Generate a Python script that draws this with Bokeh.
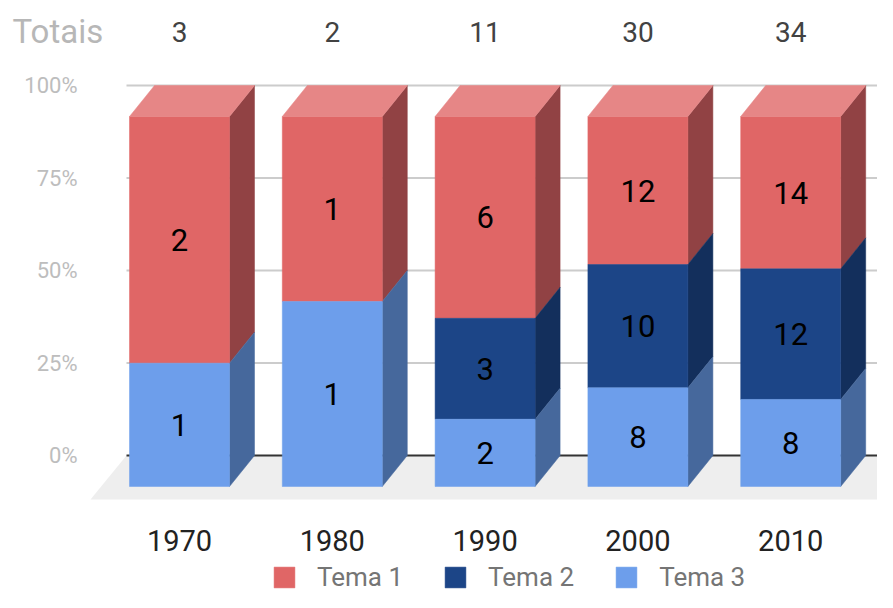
import numpy as np
from bokeh.plotting import figure
from bokeh.models import Range1d
from bokeh.core.properties import value
from bokeh.embed import file_html
from bokeh.resources import INLINE

# ---------------- data ----------------
years = ["1970", "1980", "1990", "2000", "2010"]
series_names = ["Tema 1", "Tema 2", "Tema 3"]
tema1 = [2, 1, 6, 12, 14]
tema2 = [0, 0, 3, 10, 12]
tema3 = [1, 1, 2, 8, 8]
y_ticks = [0, 0.25, 0.5, 0.75, 1.0]
y_tick_labels = ["0%", "25%", "50%", "75%", "100%"]
totals_title = "Totais"

# ---------------- layout constants (pixels) ----------------
W, H = 877, 592
PX_X = 152.8   # px per category step
X0_PX = 179    # canvas x of first bar front centre
PX_Y = 370     # px per 100 %
Y0_PX = 455    # canvas y of 0 % on the back wall

x_range = Range1d((0 - X0_PX) / PX_X, (W - X0_PX) / PX_X)
y_range = Range1d((Y0_PX - H) / PX_Y, Y0_PX / PX_Y)


def xpx(canvas_x):
    return (canvas_x - X0_PX) / PX_X


def ypx(canvas_y):
    return (Y0_PX - canvas_y) / PX_Y


BAR_W = 100 / PX_X
DX = 25 / PX_X
DY = 31 / PX_Y
FLOOR_BACK_L = xpx(126)
FLOOR_BACK_R = xpx(W + 40)
FLOOR_DX = 36 / PX_X
FLOOR_DY = 44 / PX_Y

FRONT = {"Tema 1": "#e06666", "Tema 2": "#1c4587", "Tema 3": "#6d9eeb"}
SIDE = {"Tema 1": "#914244", "Tema 2": "#132f5c", "Tema 3": "#46689c"}
TOP = {"Tema 1": "#e68686", "Tema 2": "#4a6aa0", "Tema 3": "#8ab2f0"}
FONT = value("Roboto")

p = figure(width=W, height=H, x_range=x_range, y_range=y_range,
           output_backend="svg", toolbar_location=None,
           x_axis_location=None, y_axis_location=None,
           min_border_left=0, min_border_right=0,
           min_border_top=0, min_border_bottom=0)
p.outline_line_color = None
p.grid.visible = False

# floor
p.patch([FLOOR_BACK_L, FLOOR_BACK_R, FLOOR_BACK_R - FLOOR_DX, FLOOR_BACK_L - FLOOR_DX],
        [0, 0, -FLOOR_DY, -FLOOR_DY], fill_color="#eeeeee", line_color=None)

# gridlines on back wall
for t in y_ticks:
    p.segment(x0=FLOOR_BACK_L, x1=x_range.end, y0=t, y1=t,
              line_color="#333333" if t == 0 else "#cccccc", line_width=2)

# y tick labels
p.text(x=[xpx(77)] * len(y_ticks), y=y_ticks, text=y_tick_labels, text_font=FONT,
       text_font_size="22px", text_color="#bdbdbd", text_align="right", text_baseline="middle")

# bars
totals = [a + b + c for a, b, c in zip(tema1, tema2, tema3)]
stack_order = [("Tema 3", tema3), ("Tema 2", tema2), ("Tema 1", tema1)]
front = {n: ([], []) for n in series_names}
side = {n: ([], []) for n in series_names}
top_xs, top_ys, top_c = [], [], []
lab_x, lab_y, lab_t = [], [], []
for i, tot in enumerate(totals):
    xl, xr = i - BAR_W / 2, i + BAR_W / 2
    base = 0.0
    for name, vals in stack_order:
        v = vals[i]
        if v == 0:
            continue
        y0, y1 = base, base + v / tot
        front[name][0].append([xl, xr, xr, xl])
        front[name][1].append([y0 - DY, y0 - DY, y1 - DY, y1 - DY])
        side[name][0].append([xr, xr + DX, xr + DX, xr])
        side[name][1].append([y0 - DY, y0, y1, y1 - DY])
        lab_x.append(i)
        lab_y.append((y0 + y1) / 2 - DY)
        lab_t.append(str(v))
        top_name = name
        base = y1
    top_xs.append([xl, xr, xr + DX, xl + DX])
    top_ys.append([base - DY, base - DY, base, base])
    top_c.append(TOP[top_name])

for name in series_names:
    p.patches(side[name][0], side[name][1], fill_color=SIDE[name], line_color=SIDE[name], line_width=0.5)
for name in series_names:
    p.patches(front[name][0], front[name][1], fill_color=FRONT[name], line_color=FRONT[name],
              line_width=0.5, legend_label=name)
p.patches(top_xs, top_ys, fill_color=top_c, line_color=top_c, line_width=0.5)

# value labels
p.text(x=lab_x, y=lab_y, text=lab_t, text_font=FONT, text_font_size="31px",
       text_color="#000000", text_align="center", text_baseline="middle")

# totals row
idx = list(range(len(years)))
p.text(x=idx, y=[ypx(31)] * len(idx), text=[str(t) for t in totals], text_font=FONT,
       text_font_size="28px", text_color="#424242", text_align="center", text_baseline="middle")
p.text(x=[xpx(12)], y=[ypx(31)], text=[totals_title], text_font=FONT,
       text_font_size="33px", text_color="#b7b7b7", text_align="left", text_baseline="middle")

# year labels
p.text(x=idx, y=[ypx(540)] * len(idx), text=years, text_font=FONT, text_font_size="29px",
       text_color="#222222", text_align="center", text_baseline="middle")

# legend
lg = p.legend[0]
lg.orientation = "horizontal"
lg.location = (271, 0)
lg.glyph_width = 26
lg.glyph_height = 26
lg.label_height = 26
lg.label_standoff = 20
lg.spacing = 39
lg.padding = 0
lg.margin = 0
lg.border_line_color = None
lg.background_fill_alpha = 0
lg.label_text_font = "Roboto"
lg.label_text_font_size = "26px"
lg.label_text_color = "#757575"

open("out.html", "w").write(file_html(p, INLINE))
